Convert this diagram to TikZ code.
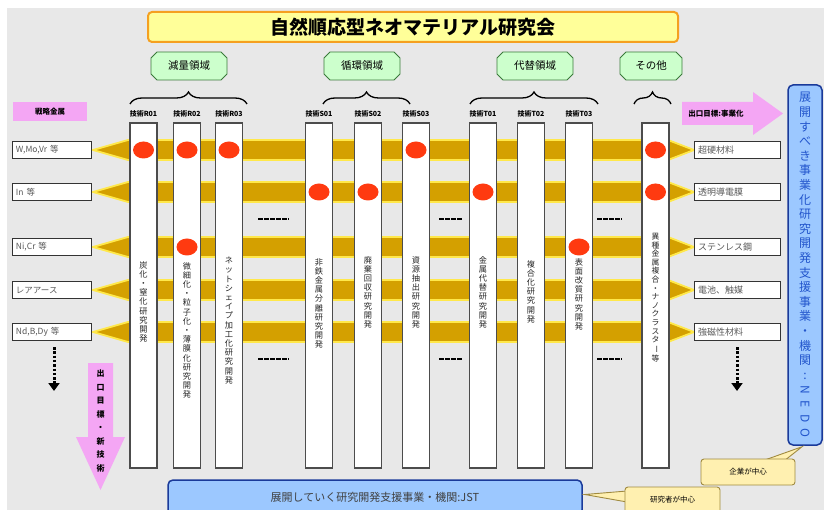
\documentclass[tikz,border=0pt]{standalone}
\usepackage{fontspec}
\usepackage{graphicx}
\setmainfont{Noto Sans CJK JP}
\usetikzlibrary{shapes.misc,shapes.geometric,decorations.pathreplacing,arrows.meta,calc}
\definecolor{bggray}{HTML}{E8E8E8}
\definecolor{ttlyellow}{HTML}{FFFF99}
\definecolor{ttlorange}{HTML}{F5A020}
\definecolor{grpgreen}{HTML}{CCFFCC}
\definecolor{grpedge}{HTML}{3A7A3A}
\definecolor{gold}{HTML}{D4A000}
\definecolor{bandedge}{HTML}{FFE84A}
\definecolor{reddot}{HTML}{FF3A10}
\definecolor{magbg}{HTML}{F4A6F4}
\definecolor{bluefill}{HTML}{9CC8FF}
\definecolor{blueedge}{HTML}{1A3A9A}
\definecolor{bluetext}{HTML}{2255CC}
\definecolor{callfill}{HTML}{FFF0B0}
\definecolor{calledge}{HTML}{A08A40}
\makeatletter
\def\vs@end{\vs@end}
\newcommand\vstk[1]{\gdef\vs@out{}\vs@loop#1\vs@end\vs@out}
\def\vs@loop#1{\ifx\vs@end#1\else\g@addto@macro\vs@out{#1\\}\expandafter\vs@loop\fi}
\makeatother
\newcommand\vbar{\rotatebox[origin=c]{-90}{ー}}
\newcommand\rN{\rotatebox[origin=c]{-90}{N}}
\newcommand\rE{\rotatebox[origin=c]{-90}{E}}
\newcommand\rD{\rotatebox[origin=c]{-90}{D}}
\newcommand\rO{\rotatebox[origin=c]{-90}{O}}
\begin{document}
\begin{tikzpicture}[x=1pt,y=-1pt,
  titlebox/.style={draw=ttlorange, line width=2pt, fill=ttlyellow, rounded corners=4pt,
    minimum width=530pt, minimum height=30pt, font=\bfseries\fontsize{19}{20}\selectfont},
  grp/.style={chamfered rectangle, chamfered rectangle xsep=3pt, chamfered rectangle ysep=3pt,
    draw=grpedge, line width=0.8pt, fill=grpgreen, minimum height=28pt, inner xsep=2pt, inner ysep=2pt,
    font=\fontsize{10.5}{11}\selectfont},
  bracedeco/.style={decorate, decoration={brace, amplitude=12pt}, line width=1.3pt},
  band/.style={fill=gold, draw=bandedge, line width=1.8pt},
  colbox/.style={draw=black!70, line width=1.1pt, fill=white, minimum width=27pt, minimum height=345pt, inner sep=0pt},
  hdr/.style={font=\bfseries\fontsize{7}{8}\selectfont, inner sep=0pt},
  dot/.style={ellipse, fill=reddot, minimum width=21pt, minimum height=17pt, inner sep=0pt},
  vtext/.style={anchor=north, align=center, inner sep=0pt, text=black!85, font=\fontsize{8.2}{9.2}\selectfont},
  lbox/.style={draw=black!80, line width=1pt, fill=white, text width=72pt, minimum height=17pt,
    inner xsep=3.5pt, inner ysep=1pt, align=left, text=black!65, font=\fontsize{8.5}{9}\selectfont},
  rbox/.style={draw=black!80, line width=1pt, fill=white, text width=79pt, minimum height=17pt,
    inner xsep=3.5pt, inner ysep=1pt, align=left, text=black!65, font=\fontsize{9}{10}\selectfont},
  magbox/.style={fill=magbg, inner sep=0pt, font=\bfseries\fontsize{7.5}{8}\selectfont},
  dashmark/.style={line width=2.6pt, dash pattern=on 4.5pt off 1.5pt},
  dotarrow/.style={line width=3pt, dash pattern=on 2.5pt off 1.8pt, -{Triangle[width=11pt,length=8pt]}},
  bluebox/.style={draw=blueedge, line width=1.5pt, fill=bluefill, rounded corners=5pt},
  callout/.style={draw=calledge, line width=0.9pt, fill=callfill, rounded corners=3pt,
    font=\fontsize{7.5}{8}\selectfont}
]
\useasboundingbox (0,0) rectangle (824,510);
\fill[white] (0,0) rectangle (824,510);
\fill[bggray] (7,8) rectangle (824,510);

% title
\node[titlebox] (title) at (413,27) {自然順応型ネオマテリアル研究会};

% group labels
\node[grp, minimum width=76pt] (gR) at (189,66) {減量領域};
\node[grp, minimum width=76pt] (gS) at (362,66) {循環領域};
\node[grp, minimum width=76pt] (gT) at (535,66) {代替領域};
\node[grp, minimum width=62pt] (gO) at (651,66) {その他};

% braces
\draw[bracedeco] (130,104) -- (247,104);
\draw[bracedeco] (323,104) -- (410,104);
\draw[bracedeco] (470,104) -- (598,104);
\draw[bracedeco] (634,104) -- (671,104);

% bands
\foreach \yy in {150,192,247,290,332} {
  \filldraw[band] (93,\yy) -- (128,\yy-10) -- (668,\yy-10) -- (694,\yy) -- (668,\yy+10) -- (128,\yy+10) -- cycle;
}

% columns
\foreach \nm/\xx in {r1/143.5,r2/187,r3/229,s1/319,s2/368,s3/416,t1/483,t2/531,t3/579,ot/655.5}
  \node[colbox] (c\nm) at (\xx,295.5) {};

% column headers
\foreach \nm/\xx/\tt in {r1/143.5/R01,r2/187/R02,r3/229/R03,s1/319/S01,s2/368/S02,s3/416/S03,t1/483/T01,t2/531/T02,t3/579/T03}
  \node[hdr] (h\nm) at (\xx,114) {技術\tt};

% red dots
\foreach \xx/\yy [count=\i] in {143.5/150,187/150,229/150,416/150,655.5/150,319/192,368/192,483/192,655.5/192,187/247,579/247}
  \node[dot] (d\i) at (\xx,\yy) {};

% column texts
\node[vtext] (vr1) at (143.5,261) {\vstk{炭化・窒化研究開発}};
\node[vtext] (vr2) at (187,262) {\vstk{微細化・粒子化・薄膜化研究開発}};
\node[vtext] (vr3) at (229,257) {\vstk{ネットシェイプ加工化研究開発}};
\node[vtext] (vs1) at (319,258) {\vstk{非鉄金属分離研究開発}};
\node[vtext] (vs2) at (368,256) {\vstk{廃棄回収研究開発}};
\node[vtext] (vs3) at (416,256) {\vstk{資源抽出研究開発}};
\node[vtext] (vt1) at (483,256) {\vstk{金属代替研究開発}};
\node[vtext] (vt2) at (531,260) {\vstk{複合化研究開発}};
\node[vtext] (vt3) at (579,258) {\vstk{表面改質研究開発}};
\node[vtext, font=\fontsize{7.8}{8.6}\selectfont] (vot) at (655.5,233) {\vstk{異種金属複合・ナノクラスタ\vbar 等}};

% dash marks
\foreach \ya in {219,359} {
  \draw[dashmark] (258,\ya) -- (289,\ya);
  \draw[dashmark] (439,\ya) -- (463,\ya);
  \draw[dashmark] (597,\ya) -- (622,\ya);
}

% left side
\node[magbox, minimum width=74pt, minimum height=19pt] (hdrL) at (50,112) {戦略金属};
\node[lbox, anchor=west] (l1) at (12,150) {W,Mo,Vr 等};
\node[lbox, anchor=west] (l2) at (12,192) {In 等};
\node[lbox, anchor=west] (l3) at (12,247) {Ni,Cr 等};
\node[lbox, anchor=west] (l4) at (12,290) {レアアース};
\node[lbox, anchor=west] (l5) at (12,332) {Nd,B,Dy 等};
\coordinate (la1) at (54,347);
\coordinate (la2) at (54,391);
\draw[dotarrow] (la1) -- (la2);

% right side
\node[rbox, anchor=west] (r1) at (694,150) {超硬材料};
\node[rbox, anchor=west] (r2) at (694,192) {透明導電膜};
\node[rbox, anchor=west] (r3) at (694,247) {ステンレス鋼};
\node[rbox, anchor=west] (r4) at (694,290) {電池、触媒};
\node[rbox, anchor=west] (r5) at (694,332) {強磁性材料};
\coordinate (ra1) at (737,347);
\coordinate (ra2) at (737,391);
\draw[dotarrow] (ra1) -- (ra2);

% right goal arrow
\fill[magbg] (682,102) -- (753,102) -- (753,92) -- (783,113.5) -- (753,135) -- (753,125) -- (682,125) -- cycle;
\node[font=\bfseries\fontsize{7.5}{8}\selectfont, inner sep=0pt] (goalR) at (716,113.5) {出口目標:事業化};

% down goal arrow
\fill[magbg] (88,363) -- (113,363) -- (113,437) -- (125,437) -- (100.5,490) -- (76,437) -- (88,437) -- cycle;
\node[anchor=north, align=center, inner sep=0pt, font=\bfseries\fontsize{8}{13.5}\selectfont] (goalD) at (100.5,370) {\vstk{出口目標・新技術}};

% NEDO box
\node[bluebox, minimum width=34pt, minimum height=360pt, inner sep=0pt, align=center, text=bluetext,
  font=\fontsize{12}{14.6}\selectfont] (nedo) at (805,265)
  {展\\開\\す\\べ\\き\\事\\業\\化\\研\\究\\開\\発\\支\\援\\事\\業\\・\\機\\関\\:\\\rN\\\rE\\\rD\\\rO};

% JST box
\node[bluebox, minimum width=414pt, minimum height=35pt, text=black!75, font=\fontsize{11}{12}\selectfont] (jst) at (375,497.5)
  {展開していく研究開発支援事業・機関:JST};

% callouts
\filldraw[draw=calledge, line width=0.9pt, fill=callfill] (762,461) -- ($(nedo.south)+(-3,1)$) -- (784,461) -- cycle;
\node[callout, minimum width=94pt, minimum height=26pt] (co1) at (748,472) {企業が中心};
\filldraw[draw=calledge, line width=0.9pt, fill=callfill] (627,491) -- ($(jst.east)+(2,-3)$) -- (627,502) -- cycle;
\node[callout, minimum width=95pt, minimum height=26pt] (co2) at (672.5,500) {研究者が中心};
\end{tikzpicture}
\end{document}
